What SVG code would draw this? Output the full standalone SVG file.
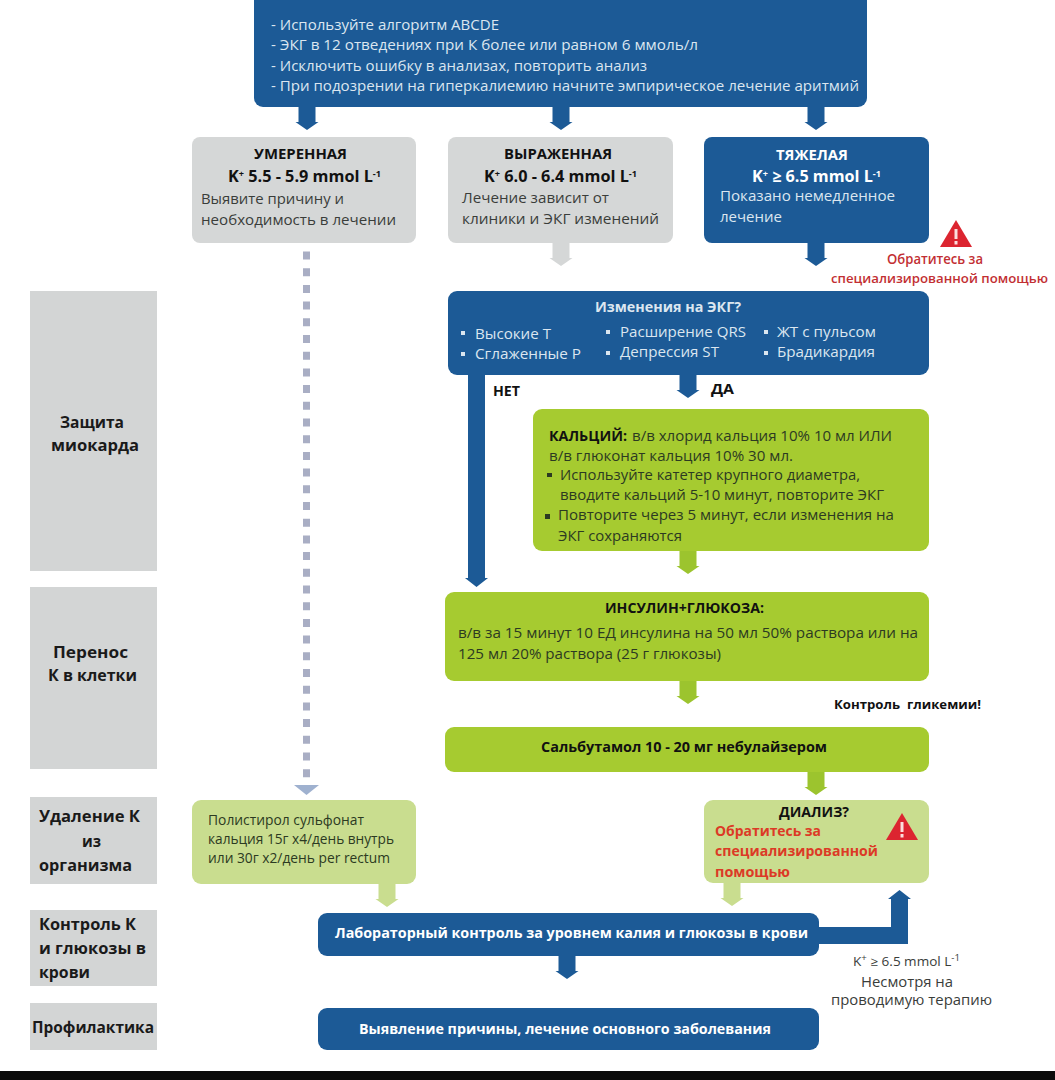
<svg xmlns="http://www.w3.org/2000/svg" width="1055" height="1080" viewBox="0 0 1055 1080">
<style>
text{font-family:"Open Sans","Noto Sans",sans-serif;font-size:14px;fill:#3a3d3a}
.b{font-weight:700}
.w{fill:#fff}.lb{fill:#dbe6f0}.k{fill:#111}.r{fill:#c22f33;font-weight:600}.rb{fill:#dc3a26;font-weight:700}
.d{fill:#2c3a22}
.h{font-size:15.5px;font-weight:700;fill:#1a1a1a}
.big{font-size:16px}
.t{font-size:14.500px}
.s{font-size:9px}
.blue{fill:#1c5a96}.gray{fill:#d5d7d7}.green{fill:#a6cb30}.lgreen{fill:#c9dd8f}.side{fill:#d3d5d5}
.ab{fill:#1c5a96}.ag{fill:#d5d7d7}.agr{fill:#9cc42e}.al{fill:#c9dd8f}
</style>
<defs>
<path id="arr" d="M-8.500 0H8.500V15H11.500L0 23L-11.500 15H-8.500Z"/>
<g id="warn"><path d="M16 0L32 27H0Z" fill="#dc2530"/><rect x="14.500" y="9" width="3" height="10" fill="#fbdede"/><rect x="14.500" y="21" width="3" height="3.500" fill="#fbdede"/></g>
</defs>
<rect width="1055" height="1080" fill="#fff"/>

<g id="connectors">
<use href="#arr" x="307" y="107" class="ab"/>
<use href="#arr" x="561" y="107" class="ab"/>
<use href="#arr" x="816" y="107" class="ab"/>
<use href="#arr" x="561" y="243" class="ag"/>
<use href="#arr" x="816" y="243" class="ab"/>
<line x1="306.500" y1="251.500" x2="306.500" y2="784" stroke="#a9aec4" stroke-width="7" stroke-dasharray="8 8.700"/>
<path d="M294 785H319L306.500 795Z" fill="#9fb1cf"/>
<path d="M468 375H485V578H488L476.500 587L465 578H468Z" class="ab"/>
<use href="#arr" x="688" y="375" class="ab"/>
<use href="#arr" x="688" y="551" class="agr"/>
<use href="#arr" x="688" y="681" class="agr"/>
<use href="#arr" x="816" y="772" class="agr"/>
<use href="#arr" x="387" y="884" class="al"/>
<use href="#arr" x="732" y="883" class="al"/>
<use href="#arr" x="567" y="956" class="ab"/>
<path d="M815 927H891V899H888L899.500 890L911 899H908V944H815Z" class="ab"/>
</g>

<g id="node-start"><rect x="254" y="-8" width="613" height="115" rx="9" class="blue"/>
<text class="lb t" x="271" y="30" textLength="228" lengthAdjust="spacingAndGlyphs">- Используйте алгоритм ABCDE</text>
<text class="lb t" x="271" y="50" textLength="427" lengthAdjust="spacingAndGlyphs">- ЭКГ в 12 отведениях при К более или равном 6 ммоль/л</text>
<text class="lb t" x="271" y="71" textLength="376" lengthAdjust="spacingAndGlyphs">- Исключить ошибку в анализах, повторить анализ</text>
<text class="lb t" x="271" y="91" textLength="588" lengthAdjust="spacingAndGlyphs">- При подозрении на гиперкалиемию начните эмпирическое лечение аритмий</text>
</g>

<g id="node-moderate"><rect x="192" y="137" width="224" height="106" rx="8" class="gray"/>
<text class="b k" x="254" y="159" textLength="93" lengthAdjust="spacingAndGlyphs">УМЕРЕННАЯ</text>
<text class="b k big" x="228" y="182" textLength="153" lengthAdjust="spacingAndGlyphs">K<tspan class="s" dy="-5">+</tspan><tspan dy="5"> 5.5 - 5.9 mmol L</tspan><tspan class="s" dy="-5">-1</tspan></text>
<text class="t" x="201" y="204" textLength="143" lengthAdjust="spacingAndGlyphs">Выявите причину и</text>
<text class="t" x="201" y="225" textLength="195" lengthAdjust="spacingAndGlyphs">необходимость в лечении</text>
</g>

<g id="node-marked"><rect x="448" y="137" width="225" height="106" rx="8" class="gray"/>
<text class="b k" x="504" y="159" textLength="108" lengthAdjust="spacingAndGlyphs">ВЫРАЖЕННАЯ</text>
<text class="b k big" x="484" y="182" textLength="153" lengthAdjust="spacingAndGlyphs">K<tspan class="s" dy="-5">+</tspan><tspan dy="5"> 6.0 - 6.4 mmol L</tspan><tspan class="s" dy="-5">-1</tspan></text>
<text class="t" x="462" y="203" textLength="147" lengthAdjust="spacingAndGlyphs">Лечение зависит от</text>
<text class="t" x="462" y="224" textLength="197" lengthAdjust="spacingAndGlyphs">клиники и ЭКГ изменений</text>
</g>

<g id="node-severe"><rect x="704" y="137" width="225" height="106" rx="8" class="blue"/>
<text class="b w" x="776" y="160" textLength="72" lengthAdjust="spacingAndGlyphs">ТЯЖЕЛАЯ</text>
<text class="b w big" x="752" y="182" textLength="129" lengthAdjust="spacingAndGlyphs">K<tspan class="s" dy="-5">+</tspan><tspan dy="5"> ≥ 6.5 mmol L</tspan><tspan class="s" dy="-5">-1</tspan></text>
<text class="lb t" x="720" y="201" textLength="175" lengthAdjust="spacingAndGlyphs">Показано немедленное</text>
<text class="lb t" x="720" y="222" textLength="62" lengthAdjust="spacingAndGlyphs">лечение</text>
</g>

<g id="note-help"><use href="#warn" x="940" y="220"/>
<text class="r" x="887" y="264" textLength="96" lengthAdjust="spacingAndGlyphs">Обратитесь за</text>
<text class="r" x="831" y="283" textLength="217" lengthAdjust="spacingAndGlyphs" style="font-size:12.500px">специализированной помощью</text>
</g>

<g id="node-ecg"><rect x="448" y="291" width="481" height="84" rx="9" class="blue"/>
<text class="b lb" x="595" y="312" textLength="146" lengthAdjust="spacingAndGlyphs">Изменения на ЭКГ?</text>
<g fill="#dbe6f0"><rect x="461" y="331" width="4" height="4"/><rect x="461" y="352" width="4" height="4"/><rect x="606" y="330" width="4" height="4"/><rect x="606" y="351" width="4" height="4"/><rect x="764" y="330" width="4" height="4"/><rect x="764" y="351" width="4" height="4"/></g>
<text class="lb" x="475" y="339" textLength="76" lengthAdjust="spacingAndGlyphs">Высокие Т</text>
<text class="lb" x="475" y="359" textLength="106" lengthAdjust="spacingAndGlyphs">Сглаженные Р</text>
<text class="lb" x="620" y="337" textLength="126" lengthAdjust="spacingAndGlyphs">Расширение QRS</text>
<text class="lb" x="620" y="357" textLength="99" lengthAdjust="spacingAndGlyphs">Депрессия ST</text>
<text class="lb" x="777" y="337" textLength="99" lengthAdjust="spacingAndGlyphs">ЖТ с пульсом</text>
<text class="lb" x="777" y="357" textLength="98" lengthAdjust="spacingAndGlyphs">Брадикардия</text>
</g>
<g id="label-no"><text class="b k" x="493" y="396" textLength="27" lengthAdjust="spacingAndGlyphs">НЕТ</text></g>
<g id="label-yes"><text class="b k" x="711" y="394" textLength="23" lengthAdjust="spacingAndGlyphs">ДА</text></g>

<g id="node-calcium"><rect x="533" y="409" width="396" height="142" rx="9" class="green"/>
<text class="b k" x="549" y="441" textLength="78" lengthAdjust="spacingAndGlyphs">КАЛЬЦИЙ:</text>
<text class="d" x="632" y="441" textLength="260" lengthAdjust="spacingAndGlyphs">в/в хлорид кальция 10% 10 мл ИЛИ</text>
<text class="d" x="549" y="461" textLength="244" lengthAdjust="spacingAndGlyphs">в/в глюконат кальция 10% 30 мл.</text>
<rect x="547" y="473" width="5" height="4" fill="#2c3a22"/>
<text class="d" x="560" y="480" textLength="300" lengthAdjust="spacingAndGlyphs">Используйте катетер крупного диаметра,</text>
<text class="d" x="560" y="500" textLength="324" lengthAdjust="spacingAndGlyphs">вводите кальций 5-10 минут, повторите ЭКГ</text>
<rect x="545" y="514" width="5" height="5" fill="#2c3a22"/>
<text class="d" x="558" y="520" textLength="336" lengthAdjust="spacingAndGlyphs">Повторите через 5 минут, если изменения на</text>
<text class="d" x="558" y="541" textLength="124" lengthAdjust="spacingAndGlyphs">ЭКГ сохраняются</text>
</g>

<g id="node-insulin"><rect x="445" y="592" width="484" height="89" rx="9" class="green"/>
<text class="b k" x="605" y="613" textLength="159" lengthAdjust="spacingAndGlyphs">ИНСУЛИН+ГЛЮКОЗА:</text>
<text class="d" x="458" y="638" textLength="460" lengthAdjust="spacingAndGlyphs">в/в за 15 минут 10 ЕД инсулина на 50 мл 50% раствора или на</text>
<text class="d" x="458" y="659" textLength="263" lengthAdjust="spacingAndGlyphs">125 мл 20% раствора (25 г глюкозы)</text>
</g>
<g id="note-glycemia"><text class="b k" x="834" y="709" textLength="147" lengthAdjust="spacingAndGlyphs" style="font-size:13px;white-space:pre">Контроль  гликемии!</text></g>

<g id="node-salbutamol"><rect x="445" y="727" width="484" height="45" rx="9" class="green"/>
<text class="b k" x="541" y="752" textLength="286" lengthAdjust="spacingAndGlyphs">Сальбутамол 10 - 20 мг небулайзером</text>
</g>

<g id="node-dialysis"><rect x="704" y="800" width="225" height="83" rx="9" class="lgreen"/>
<text class="b k" x="779" y="817" textLength="70" lengthAdjust="spacingAndGlyphs">ДИАЛИЗ?</text>
<text class="rb" x="715" y="836" textLength="106" lengthAdjust="spacingAndGlyphs">Обратитесь за</text>
<text class="rb" x="715" y="856" textLength="163" lengthAdjust="spacingAndGlyphs">специализированной</text>
<text class="rb" x="715" y="877" textLength="75" lengthAdjust="spacingAndGlyphs">помощью</text>
<use href="#warn" x="886" y="813"/>
</g>

<g id="node-polystyrene"><rect x="192" y="800" width="224" height="84" rx="9" class="lgreen"/>
<text class="d" x="208" y="825" textLength="156" lengthAdjust="spacingAndGlyphs">Полистирол сульфонат</text>
<text class="d" x="208" y="844" textLength="186" lengthAdjust="spacingAndGlyphs">кальция 15г x4/день внутрь</text>
<text class="d" x="208" y="863" textLength="182" lengthAdjust="spacingAndGlyphs">или 30г х2/день per rectum</text>
</g>

<g id="node-lab"><rect x="318" y="913" width="501" height="43" rx="9" class="blue"/>
<text class="b w" x="335" y="938" textLength="473" lengthAdjust="spacingAndGlyphs">Лабораторный контроль за уровнем калия и глюкозы в крови</text>
</g>
<g id="note-refractory">
<text x="853" y="966" textLength="107" lengthAdjust="spacingAndGlyphs" style="font-size:12.500px">K<tspan class="s" dy="-5">+</tspan><tspan dy="5"> ≥ 6.5 mmol L</tspan><tspan class="s" dy="-5">-1</tspan></text>
<text x="861" y="987" textLength="92" lengthAdjust="spacingAndGlyphs">Несмотря на</text>
<text x="831" y="1005" textLength="161" lengthAdjust="spacingAndGlyphs">проводимую терапию</text>
</g>
<g id="node-prevention"><rect x="318" y="1008" width="501" height="42" rx="9" class="blue"/>
<text class="b w" x="359" y="1034" textLength="412" lengthAdjust="spacingAndGlyphs">Выявление причины, лечение основного заболевания</text>
</g>

<g id="side-protect"><rect x="30" y="291" width="127" height="280" class="side"/>
<text class="h" x="60" y="428" textLength="64" lengthAdjust="spacingAndGlyphs">Защита</text>
<text class="h" x="51" y="451" textLength="88" lengthAdjust="spacingAndGlyphs">миокарда</text>
</g>
<g id="side-shift"><rect x="30" y="587" width="127" height="182" class="side"/>
<text class="h" x="53" y="658" textLength="75" lengthAdjust="spacingAndGlyphs">Перенос</text>
<text class="h" x="48" y="681" textLength="89" lengthAdjust="spacingAndGlyphs">К в клетки</text>
</g>
<g id="side-remove"><rect x="30" y="797" width="127" height="87" class="side"/>
<text class="h" x="39" y="822" textLength="101" lengthAdjust="spacingAndGlyphs">Удаление К</text>
<text class="h" x="82" y="847" textLength="19" lengthAdjust="spacingAndGlyphs">из</text>
<text class="h" x="39" y="871" textLength="93" lengthAdjust="spacingAndGlyphs">организма</text>
</g>
<g id="side-control"><rect x="30" y="910" width="127" height="76" class="side"/>
<text class="h" x="39" y="930" textLength="97" lengthAdjust="spacingAndGlyphs">Контроль К</text>
<text class="h" x="39" y="954" textLength="107" lengthAdjust="spacingAndGlyphs">и глюкозы в</text>
<text class="h" x="39" y="978" textLength="51" lengthAdjust="spacingAndGlyphs">крови</text>
</g>
<g id="side-prevent"><rect x="30" y="1003" width="127" height="47" class="side"/>
<text class="h" x="32" y="1033" textLength="122" lengthAdjust="spacingAndGlyphs">Профилактика</text>
</g>
<rect id="bottom-bar" x="0" y="1071" width="1055" height="9" fill="#0b0b0b"/>
</svg>
